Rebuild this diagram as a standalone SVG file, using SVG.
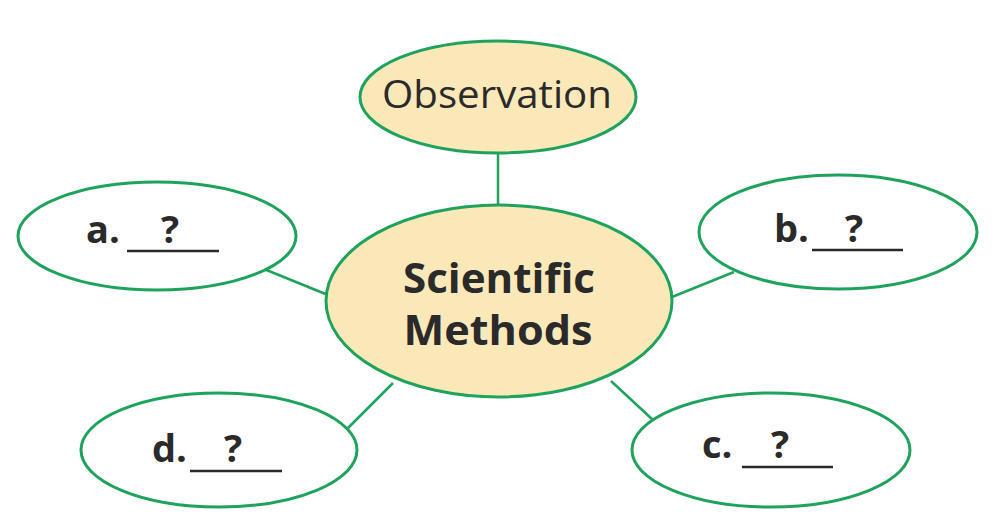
<svg xmlns="http://www.w3.org/2000/svg" width="1002" height="530" viewBox="0 0 1002 530">
<style>
.node{stroke:#1fa35c;stroke-width:3}
.hub{fill:#fbe8b8}
.leaf{fill:#ffffff}
.con line{stroke:#1fa35c;stroke-width:2.5}
text{font-family:"Open Sans","Noto Sans","DejaVu Sans",sans-serif;fill:#2b2a2a}
.b{font-weight:bold}
.ul{stroke:#2b2a2a;stroke-width:2.5}
</style>
<rect width="1002" height="530" fill="#ffffff"/>
<g class="con" id="connectors">
<line x1="498" y1="153" x2="498" y2="206"/>
<line x1="264" y1="269" x2="328" y2="295"/>
<line x1="734" y1="272" x2="672" y2="297"/>
<line x1="611" y1="381" x2="653" y2="420"/>
<line x1="348" y1="428" x2="393" y2="383"/>
</g>
<g id="observation">
<ellipse class="node hub" cx="498" cy="97" rx="138" ry="56"/>
<text x="497" y="108" font-size="39" text-anchor="middle" textLength="230" lengthAdjust="spacingAndGlyphs">Observation</text>
</g>
<g id="scientific-methods">
<ellipse class="node hub" cx="499" cy="301" rx="173" ry="96"/>
<text class="b" x="499" y="293" font-size="41" text-anchor="middle" textLength="192" lengthAdjust="spacingAndGlyphs">Scientific</text>
<text class="b" x="498" y="345" font-size="41" text-anchor="middle" textLength="189" lengthAdjust="spacingAndGlyphs">Methods</text>
</g>
<g id="a">
<ellipse class="node leaf" cx="157" cy="236" rx="139" ry="54"/>
<text class="b" x="86" y="243" font-size="38">a.</text>
<text class="b" x="161" y="243" font-size="38">?</text>
<line class="ul" x1="127" y1="251" x2="219" y2="251"/>
</g>
<g id="b">
<ellipse class="node leaf" cx="838" cy="232" rx="139" ry="57"/>
<text class="b" x="774" y="242" font-size="38">b.</text>
<text class="b" x="845" y="242" font-size="38">?</text>
<line class="ul" x1="812" y1="250" x2="903" y2="250"/>
</g>
<g id="c">
<ellipse class="node leaf" cx="771" cy="450" rx="139" ry="57"/>
<text class="b" x="702" y="458" font-size="38">c.</text>
<text class="b" x="771" y="458" font-size="38">?</text>
<line class="ul" x1="742" y1="467" x2="833" y2="467"/>
</g>
<g id="d">
<ellipse class="node leaf" cx="219" cy="450" rx="138" ry="57"/>
<text class="b" x="152" y="462" font-size="38">d.</text>
<text class="b" x="224" y="462" font-size="38">?</text>
<line class="ul" x1="190" y1="471" x2="282" y2="471"/>
</g>
</svg>
